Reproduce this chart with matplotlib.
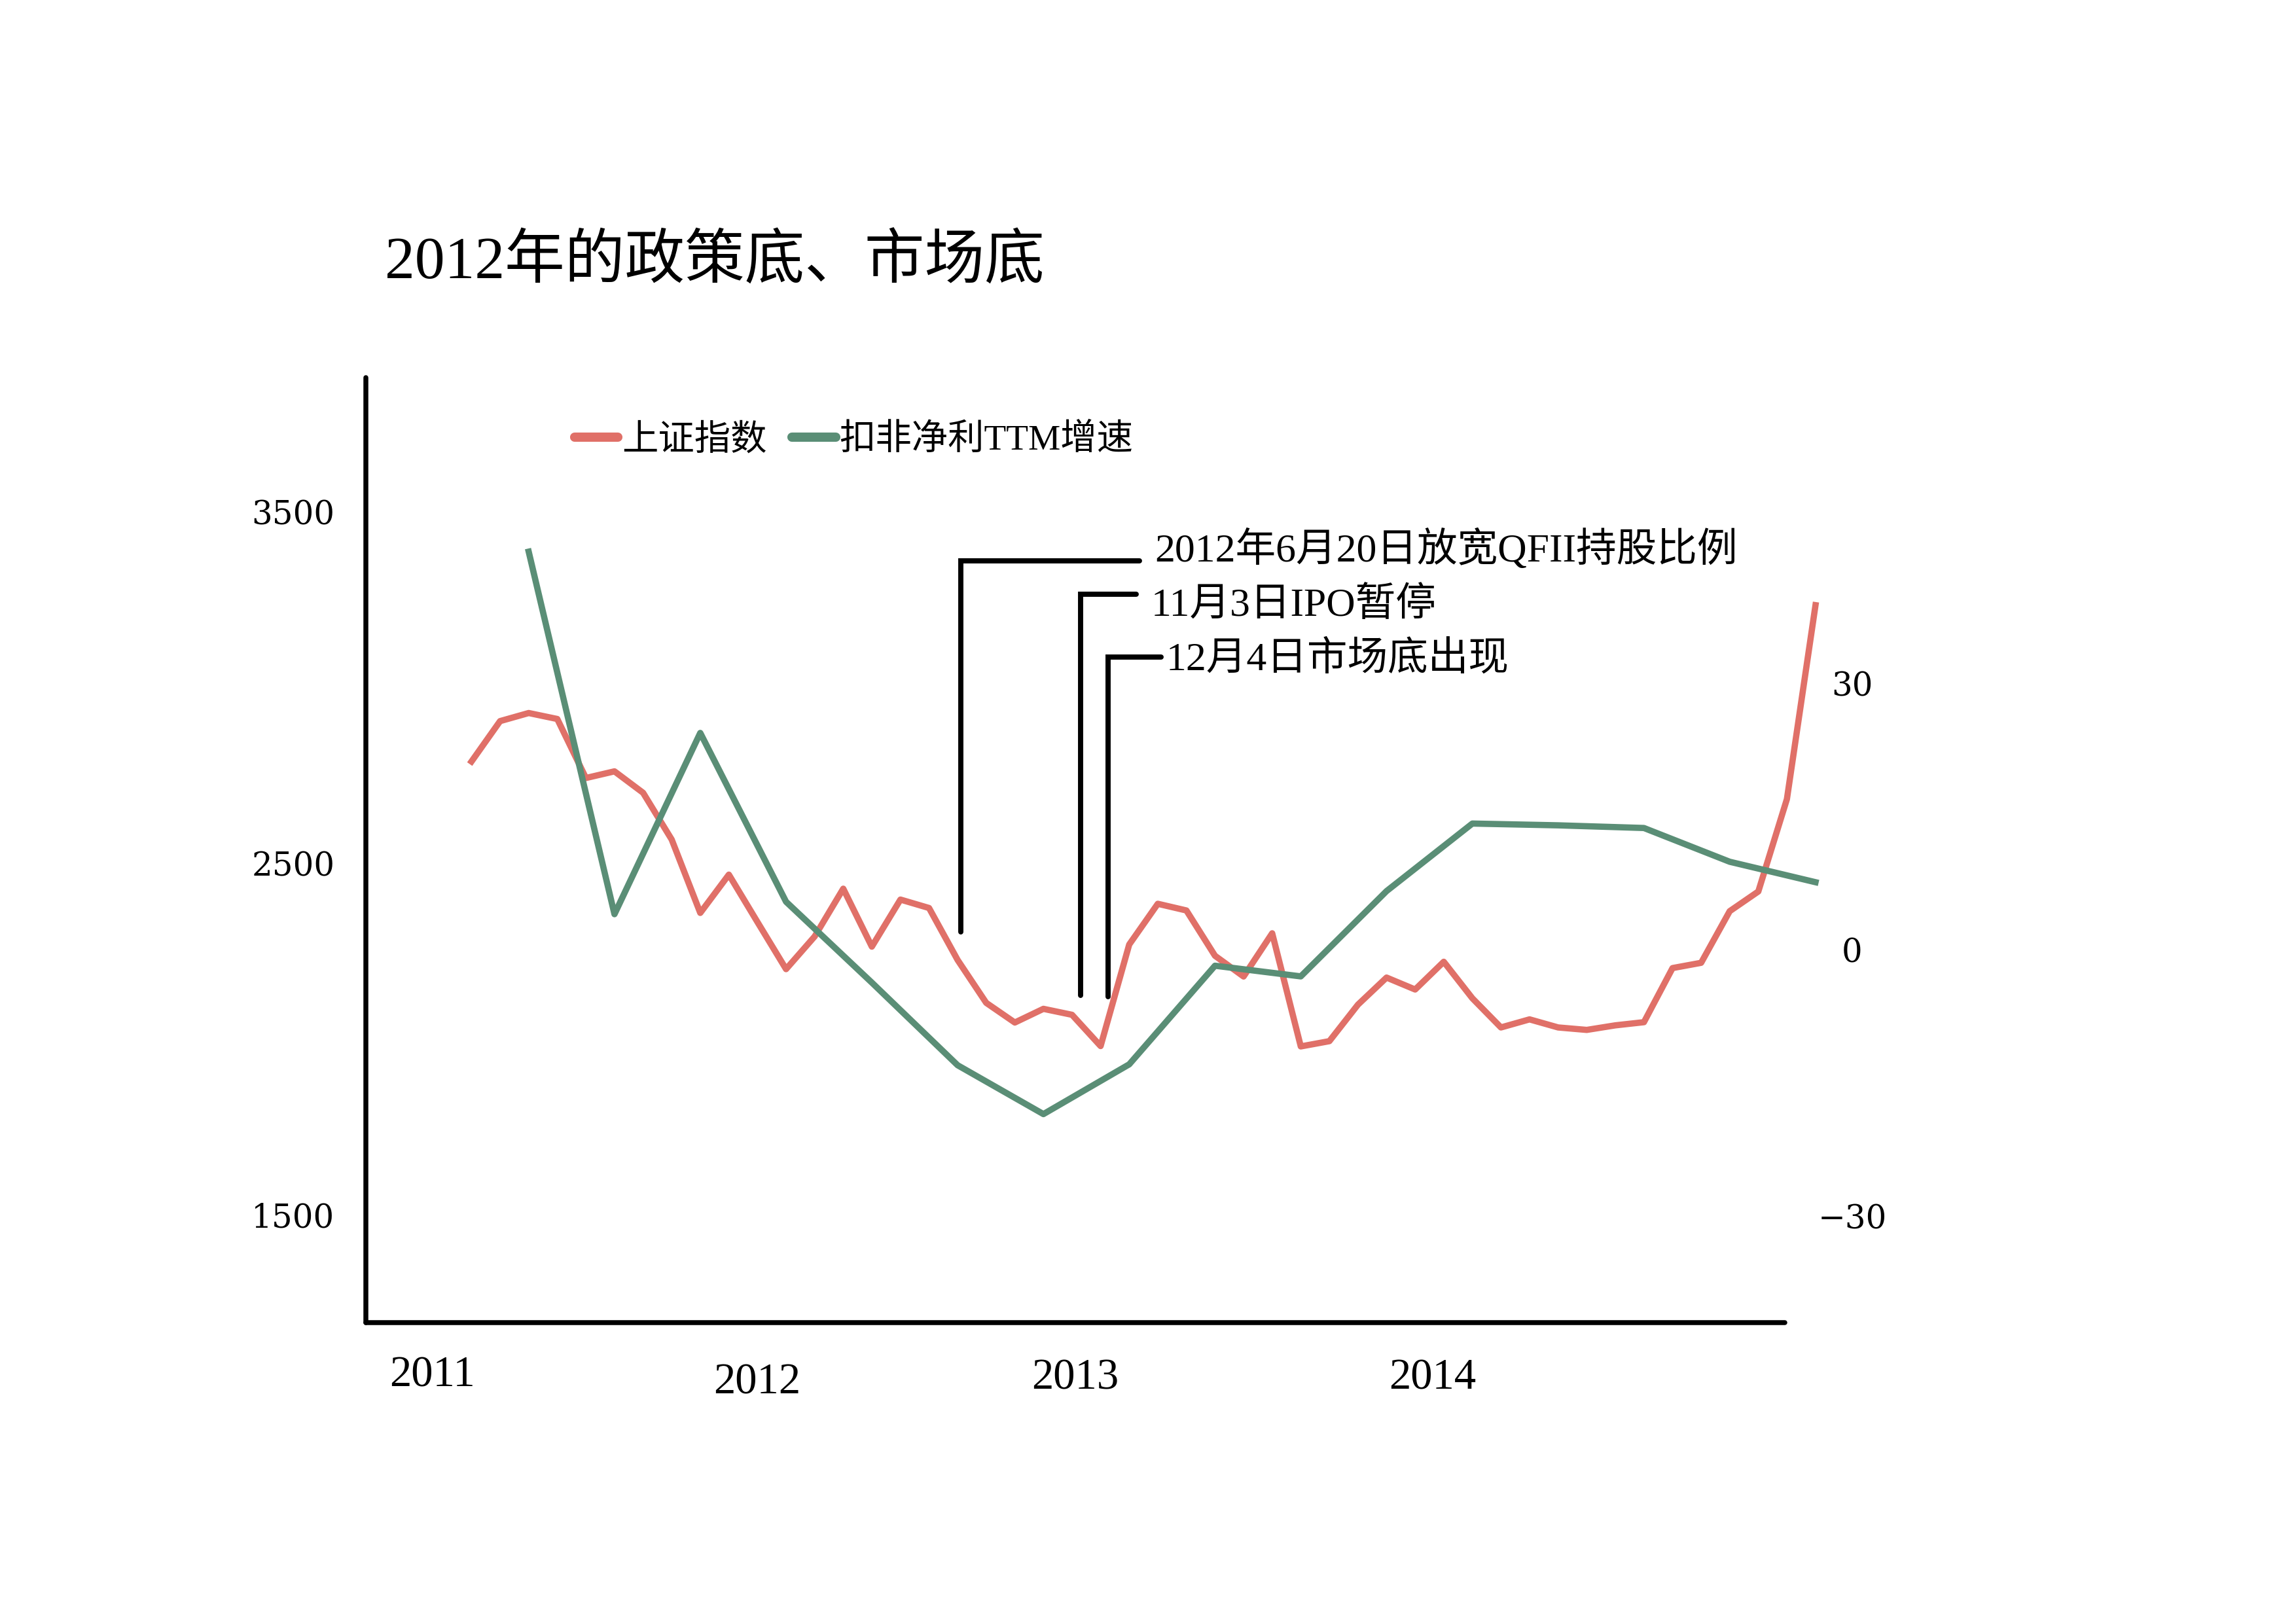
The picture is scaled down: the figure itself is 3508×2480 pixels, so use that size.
import numpy as np
import matplotlib
matplotlib.use('agg')
import matplotlib.pyplot as plt
import matplotlib.transforms as mtransforms

plt.rcParams['font.family'] = ['Liberation Serif', 'Noto Sans CJK SC']

# monthly closes of 上证指数, Jan 2011 .. Dec 2014 (month index 0..47)
sh_idx = [2790, 2905, 2928, 2911, 2743, 2762, 2701, 2568, 2359, 2468, 2333, 2199,
          2292, 2428, 2263, 2397, 2373, 2225, 2103, 2047, 2086, 2069, 1980, 2269,
          2385, 2366, 2237, 2178, 2301, 1979, 1994, 2098, 2175, 2141, 2220, 2116,
          2033, 2056, 2033, 2026, 2039, 2048, 2202, 2217, 2364, 2420, 2683, 3235]
sh_month = list(range(len(sh_idx)))

# quarterly 扣非净利TTM增速 (%), at month index
profit_month = [2, 5, 8, 11, 14, 17, 20, 23, 26, 29, 32, 35, 38, 41, 44, 47]
profit_growth = [44.8, 4.0, 24.4, 5.4, -3.7, -13.0, -18.5, -12.9, -1.8, -3.0,
                 6.6, 14.2, 14.0, 13.7, 9.9, 7.6]

year_ticks = [-1.38, 9.98, 21.1, 33.6]
year_labels = ['2011', '2012', '2013', '2014']
year_drop = [0, 11, 4, 4]  # label drop in pixels

left_ticks = [1500, 2500, 3500]
right_ticks = [-30, 0, 30]

# policy events
event_x = [17.1, 21.3, 22.27]
event_low = [2304, 2125, 2121]
event_high = [3362, 3267, 3088]
event_arm = [6.25, 1.95, 1.85]
event_label_x = [23.9, 23.76, 24.3]
event_label_y = [3392, 3233, 3079]
event_text = ['2012年6月20日放宽QFII持股比例', '11月3日IPO暂停', '12月4日市场底出现']

red = '#E07068'
green = '#5A8E76'

fig = plt.figure(figsize=(3508 / 300, 2480 / 300), dpi=300)
ax = fig.add_axes([0.1594, 0.1849, 0.618, 0.5825])
ax2 = ax.twinx()

l1, = ax.plot(sh_month, sh_idx, color=red, lw=2.3, clip_on=False, label='上证指数')
l2, = ax2.plot(profit_month, profit_growth, color=green, lw=2.3, clip_on=False,
               label='扣非净利TTM增速')

for x, lo, hi, arm in zip(event_x, event_low, event_high, event_arm):
    ax.plot([x, x, x + arm], [lo, hi, hi], color='black', lw=1.9,
            solid_capstyle='round', solid_joinstyle='miter', clip_on=False)
for x, y, t in zip(event_label_x, event_label_y, event_text):
    ax.text(x, y, t, fontsize=14.8, ha='left', va='center')

ax.set_xlim(-3.69, 45.93)
ax.set_ylim(1192, 3883)
ax2.set_ylim(-42.0, 64.4)

for s in ['top', 'right']:
    ax.spines[s].set_visible(False)
for s in ax2.spines.values():
    s.set_visible(False)
for s in ['left', 'bottom']:
    ax.spines[s].set_linewidth(1.8)
    ax.spines[s].set_capstyle('round')

ax.set_yticks(left_ticks)
ax.set_yticklabels([str(v) for v in left_ticks], family='DejaVu Serif', fontsize=12)
ax.tick_params(axis='y', length=0, pad=11.5)

ax.set_xticks(year_ticks)
ax.set_xticklabels(year_labels, fontsize=16)
ax.tick_params(axis='x', length=0, pad=12)
for lab, d in zip(ax.get_xticklabels(), year_drop):
    lab.set_transform(lab.get_transform() +
                      mtransforms.ScaledTranslation(0, -d / 300, fig.dpi_scale_trans))

ax2.set_yticks(right_ticks)
ax2.set_yticklabels([str(v).replace('-', '\u2212') for v in right_ticks],
                    family='DejaVu Serif', fontsize=12)
ax2.tick_params(axis='y', length=0, pad=24.7)
plt.setp(ax2.get_yticklabels(), ha='center')

leg = ax.legend(handles=[l1, l2], loc='center left', bbox_to_anchor=(0.147, 0.933),
                ncol=2, frameon=False, fontsize=13.3, borderpad=0, handlelength=1.2,
                handletextpad=0.1, columnspacing=0.7, borderaxespad=0)
for ln in leg.get_lines():
    ln.set_linewidth(3.4)
    ln.set_solid_capstyle('round')

fig.text(0.1677, 0.838, '2012年的政策底、市场底', fontsize=22, ha='left', va='center')

fig.savefig('out.png', dpi=300, facecolor='white')
